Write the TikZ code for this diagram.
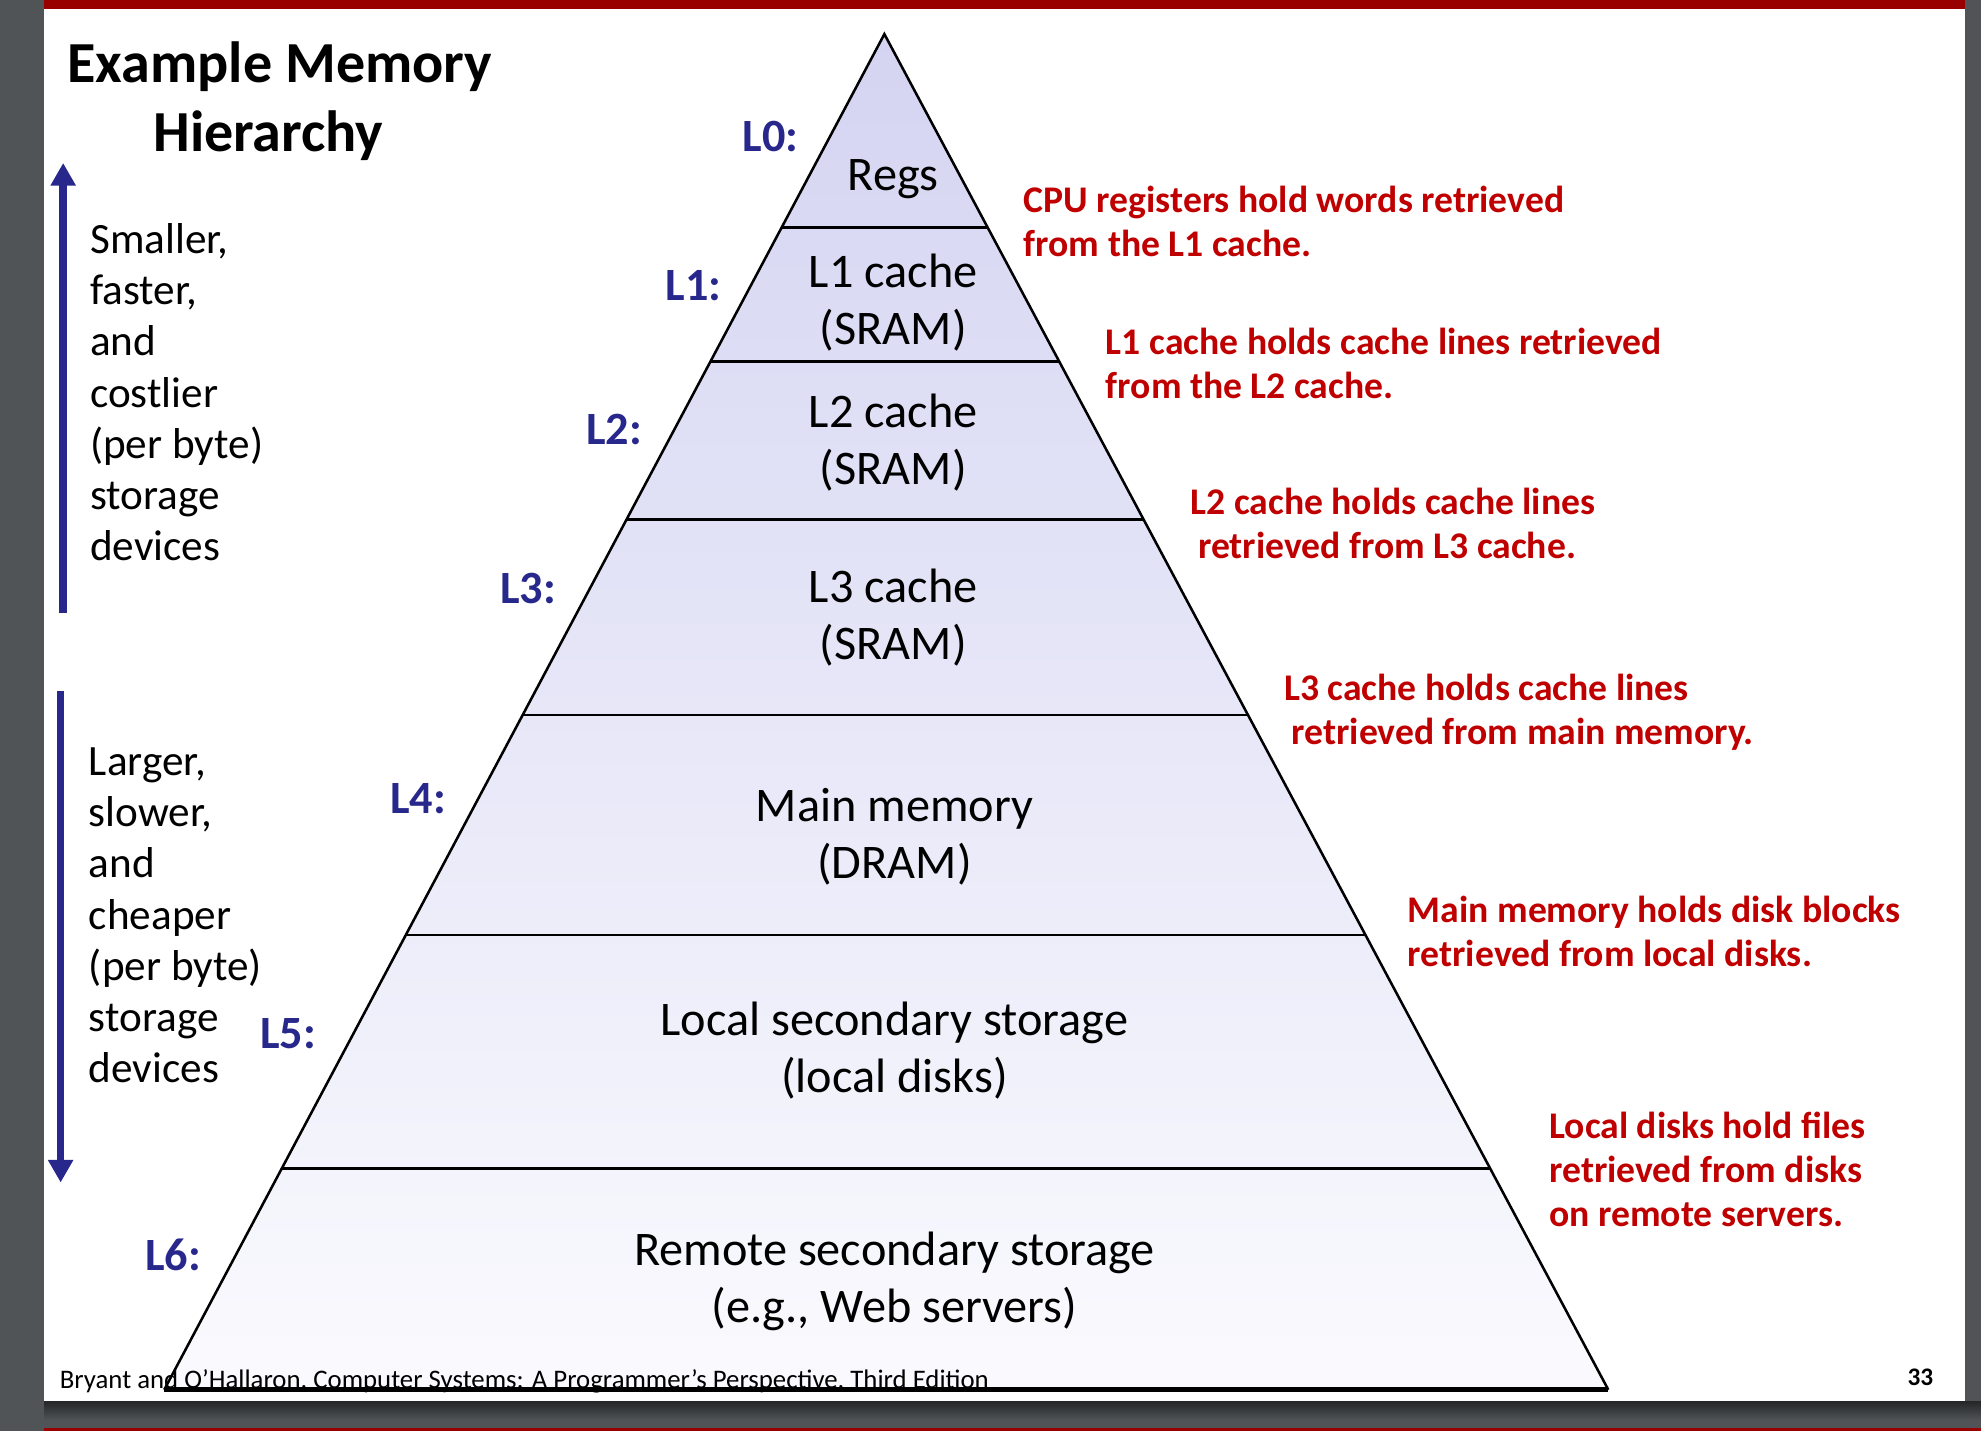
\documentclass[tikz,border=0pt]{standalone}
\usepackage{fontspec}
\setmainfont{Carlito}
\usetikzlibrary{arrows.meta}
\usetikzlibrary{calc}

\definecolor{slidegray}{RGB}{80,84,87}
\definecolor{slidered}{RGB}{153,0,0}
\definecolor{noteRed}{RGB}{192,0,0}
\definecolor{levelBlue}{RGB}{40,40,140}
\definecolor{tierTop}{RGB}{212,212,242}
\definecolor{tierBottom}{RGB}{250,250,254}

\begin{document}
\begin{tikzpicture}[x=0.5pt, y=-0.5pt,
        level-label/.style={
            text=levelBlue,
            font=\fontsize{18.3}{21}\selectfont\bfseries,
            inner sep=0pt
        },
        tier-text/.style={
            align=center,
            font=\fontsize{19.1}{22.5}\selectfont,
            inner sep=0pt
        },
        note-text/.style={
            anchor=west,
            align=left,
            text=noteRed,
            font=\fontsize{14.9}{17.5}\selectfont\bfseries,
            inner sep=0pt
        },
        side-text/.style={
            anchor=west,
            align=left,
            font=\fontsize{17.1}{20.25}\selectfont,
            inner sep=0pt
        },
        size-arrow/.style={
            line width=3pt,
            levelBlue,
            -{Triangle[width=9.5pt, length=9pt]}
        }
    ]
    \useasboundingbox (0,0) rectangle (1568,1133);
    % slide page
    \fill[slidegray] (0,0) rectangle (1568,1133);
    \shade[top color=black!55!slidegray, bottom color=slidegray] (35,1109) rectangle (1568,1124);
    \fill[white] (35,0) rectangle (1555,1109);
    \fill[slidered] (35,0) rectangle (1555,7);
    \fill[slidered] (35,1130) rectangle (1568,1133);

    % title
    \node[anchor=west, align=left, font=\fontsize{23}{27.5}\selectfont\bfseries, inner sep=0pt] (title) at (53,80) {Example Memory\\\hspace*{34pt}Hierarchy};

    % pyramid
    \coordinate (apex) at (700,27);
    \coordinate (bl) at (130,1100);
    \coordinate (br) at (1273,1100);
    \shade[top color=tierTop, bottom color=tierBottom] (apex) -- (bl) -- (br) -- cycle;
    \foreach \y [evaluate=\y as \f using (\y-27)/1073] in {180, 286, 411, 566, 740, 925} {
        \draw[line width=1pt] ($(apex)!\f!(bl)$) -- ($(apex)!\f!(br)$);
    }
    \draw[line width=1pt] (bl) -- (apex) -- (br);
    \draw[line width=1.8pt] (bl) -- (br);

    % levels
    \foreach \lvl/\x/\y in {0/610/108, 1/549/226, 2/486/340, 3/418/466, 4/331/632, 5/228/818, 6/137/993} {
        \node[level-label] (L\lvl) at (\x,\y) {L\lvl:};
    }
    \node[tier-text] (regs) at (707,142) {Regs};
    \node[tier-text] (l1-cache) at (707,239.5) {L1 cache\\(SRAM)};
    \node[tier-text] (l2-cache) at (707,350) {L2 cache\\(SRAM)};
    \node[tier-text] (l3-cache) at (707,488.5) {L3 cache\\(SRAM)};
    \node[tier-text] (main-mem) at (708,662) {Main memory\\(DRAM)};
    \node[tier-text] (local-disk) at (708,831.5) {Local secondary storage\\(local disks)};
    \node[tier-text] (remote-disk) at (708,1014.5) {Remote secondary storage\\(e.g., Web servers)};

    % notes
    \node[note-text] (note0) at (810,175.5) {CPU registers hold words retrieved\\from the L1 cache.};
    \node[note-text] (note1) at (875,287.5) {L1 cache holds cache lines retrieved\\from the L2 cache.};
    \node[note-text] (note2) at (942,414) {L2 cache holds cache lines\\\hspace*{3pt}retrieved from L3 cache.};
    \node[note-text] (note3) at (1016,564) {L3 cache holds cache lines\\\hspace*{3pt}retrieved from main memory.};
    \node[note-text] (note4) at (1114,737) {Main memory holds disk blocks\\retrieved from local disks.};
    \node[note-text] (note5) at (1226,925.5) {Local disks hold files\\retrieved from disks\\on remote servers.};

    % side arrows
    \coordinate (up-start) at (50,485);
    \coordinate (up-end) at (50,129);
    \coordinate (down-start) at (48,547);
    \coordinate (down-end) at (48,936);
    \draw[size-arrow] (up-start) -- (up-end);
    \draw[size-arrow] (down-start) -- (down-end);
    \node[side-text] (smaller) at (71,310.5) {Smaller,\\faster,\\and\\costlier\\(per byte)\\storage\\devices};
    \node[side-text] (larger) at (70,724.5) {Larger,\\slower,\\and\\cheaper\\(per byte)\\storage\\devices};

    % footer
    \node[anchor=west, font=\fontsize{10.6}{12}\selectfont, inner sep=0pt] (credit) at (47,1093) {Bryant and O’Hallaron, Computer Systems: A Programmer’s Perspective, Third Edition};
    \node[font=\fontsize{10}{12}\selectfont\bfseries, inner sep=0pt] (page-num) at (1520,1090) {33};
\end{tikzpicture}
\end{document}
